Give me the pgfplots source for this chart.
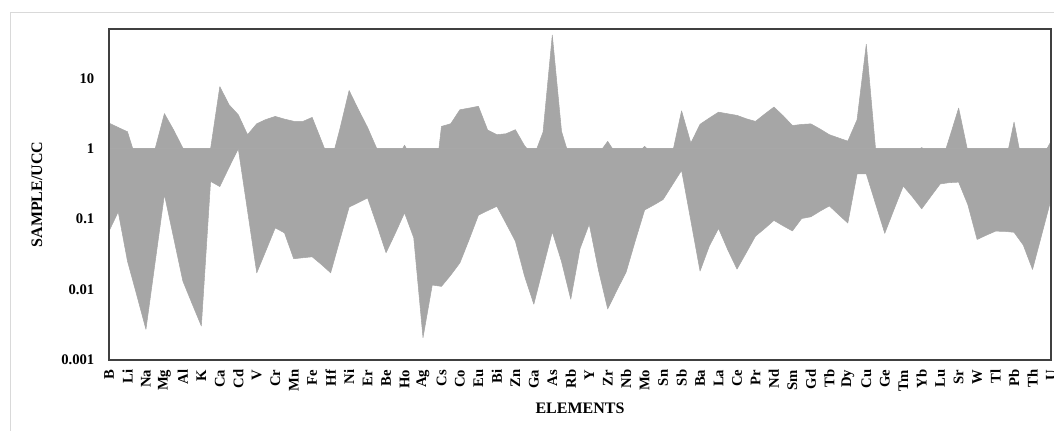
\documentclass[border=0pt]{standalone}
\usepackage{fontspec}
\setmainfont{Liberation Serif}
\usepackage{pgfplots}
\usepackage{pgfplotstable}
\pgfplotsset{compat=1.18}
\definecolor{areagray}{RGB}{166,166,166}
\definecolor{framegray}{RGB}{217,217,217}
\definecolor{axisframe}{RGB}{64,64,64}

\pgfplotstableread{
i up lo
0 2.31 0.0675
1 2.0 0.127
2 1.74 0.0254
3 0.66 0.0084
4 0.8 0.00273
5 1.0 0.0248
6 3.15 0.223
7 1.84 0.0543
8 1.02 0.0132
9 0.8 0.0063
10 0.8 0.00304
11 1.0 0.344
12 7.6 0.29
13 4.2 0.544
14 3.03 1.0
15 1.58 0.132
16 2.26 0.0173
17 2.6 0.0359
18 2.87 0.0752
19 2.63 0.0638
20 2.45 0.0274
21 2.44 0.0283
22 2.78 0.0292
23 1.3 0.0227
24 0.6 0.0173
25 1.9 0.0508
26 6.7 0.148
27 3.6 0.172
28 2.0 0.2
29 1.0 0.083
30 0.7 0.0333
31 0.65 0.063
32 1.12 0.123
33 0.65 0.0543
34 0.5 0.00208
35 0.15 0.0116
36 2.07 0.0111
37 2.26 0.016
38 3.57 0.024
39 3.77 0.0514
40 4.0 0.1137
41 1.84 0.132
42 1.58 0.152
43 1.63 0.0866
44 1.86 0.0487
45 1.1 0.0155
46 0.77 0.0062
47 1.72 0.0204
48 41 0.066
49 1.76 0.025
50 0.65 0.0073
51 0.8 0.038
52 0.8 0.085
53 0.84 0.0189
54 1.27 0.0053
55 0.8 0.0098
56 0.8 0.0178
57 0.8 0.05
58 1.08 0.135
59 0.8 0.159
60 0.8 0.19
61 0.85 0.306
62 3.45 0.493
63 1.2 0.0955
64 2.22 0.0183
65 2.72 0.0414
66 3.3 0.074
67 3.13 0.0367
68 2.97 0.0195
69 2.66 0.0333
70 2.44 0.0573
71 3.1 0.0736
72 3.9 0.096
73 2.93 0.0803
74 2.13 0.068
75 2.21 0.102
76 2.25 0.108
77 1.9 0.13
78 1.58 0.154
79 1.42 0.116
80 1.28 0.088
81 2.57 0.438
82 30.4 0.438
83 1.0 0.166
84 0.8 0.063
85 0.8 0.137
86 0.8 0.295
87 0.8 0.207
88 1.04 0.14
89 0.8 0.211
90 0.55 0.316
91 1.42 0.33
92 3.77 0.335
93 0.9 0.16
94 0.8 0.0514
95 0.8 0.0592
96 0.8 0.0675
97 0.56 0.067
98 2.39 0.065
99 0.5 0.0428
100 0.8 0.0193
101 0.73 0.0605
102 1.27 0.19
}\data

\begin{document}
\begin{tikzpicture}
\useasboundingbox (0pt,0pt) rectangle (790.5pt,322.5pt);
\draw[framegray, line width=0.75pt] (7.5pt,-20pt) -- (7.5pt,313pt) -- (820pt,313pt);
\begin{axis}[
  at={(81.75pt,52.5pt)}, anchor=south west,
  scale only axis, width=706.5pt, height=248.25pt,
  ymode=log, ymin=0.001, ymax=50,
  xmin=0, xmax=102,
  axis on top,
  axis line style={axisframe, line width=1pt},
  major tick length=0pt, minor tick length=0pt, yminorticks=false,
  ytick={0.001,0.01,0.1,1,10},
  yticklabels={0.001,0.01,0.1,1,10},
  xtick={0,2,...,102},
  xticklabels={B,Li,Na,Mg,Al,K,Ca,Cd,V,Cr,Mn,Fe,Hf,Ni,Er,Be,Ho,Ag,Cs,Co,Eu,Bi,Zn,Ga,As,Rb,Y,Zr,Nb,Mo,Sn,Sb,Ba,La,Ce,Pr,Nd,Sm,Gd,Tb,Dy,Cu,Ge,Tm,Yb,Lu,Sr,W,Tl,Pb,Th,U},
  ticklabel style={font=\fontsize{11}{13}\selectfont\bfseries},
  xticklabel style={rotate=90, anchor=east},
  xticklabel shift=3.8pt,
  yticklabel shift=7.5pt,
  xlabel={ELEMENTS}, ylabel={SAMPLE/UCC},
  every axis x label/.style={at={(rel axis cs:0.5,-0.146)}, anchor=center, font=\fontsize{12}{14}\selectfont\bfseries},
  every axis y label/.style={at={(rel axis cs:-0.0764,0.5)}, rotate=90, anchor=center, font=\fontsize{12}{14}\selectfont\bfseries},
]
\addplot[fill=areagray, draw=areagray, line width=0.4pt, line join=round] table[x=i, y=up] {\data} -- (axis cs:102,1) -- (axis cs:0,1) -- cycle;
\addplot[fill=areagray, draw=areagray, line width=0.4pt, line join=round] table[x=i, y=lo] {\data} -- (axis cs:102,1) -- (axis cs:0,1) -- cycle;
\end{axis}
\end{tikzpicture}
\end{document}
